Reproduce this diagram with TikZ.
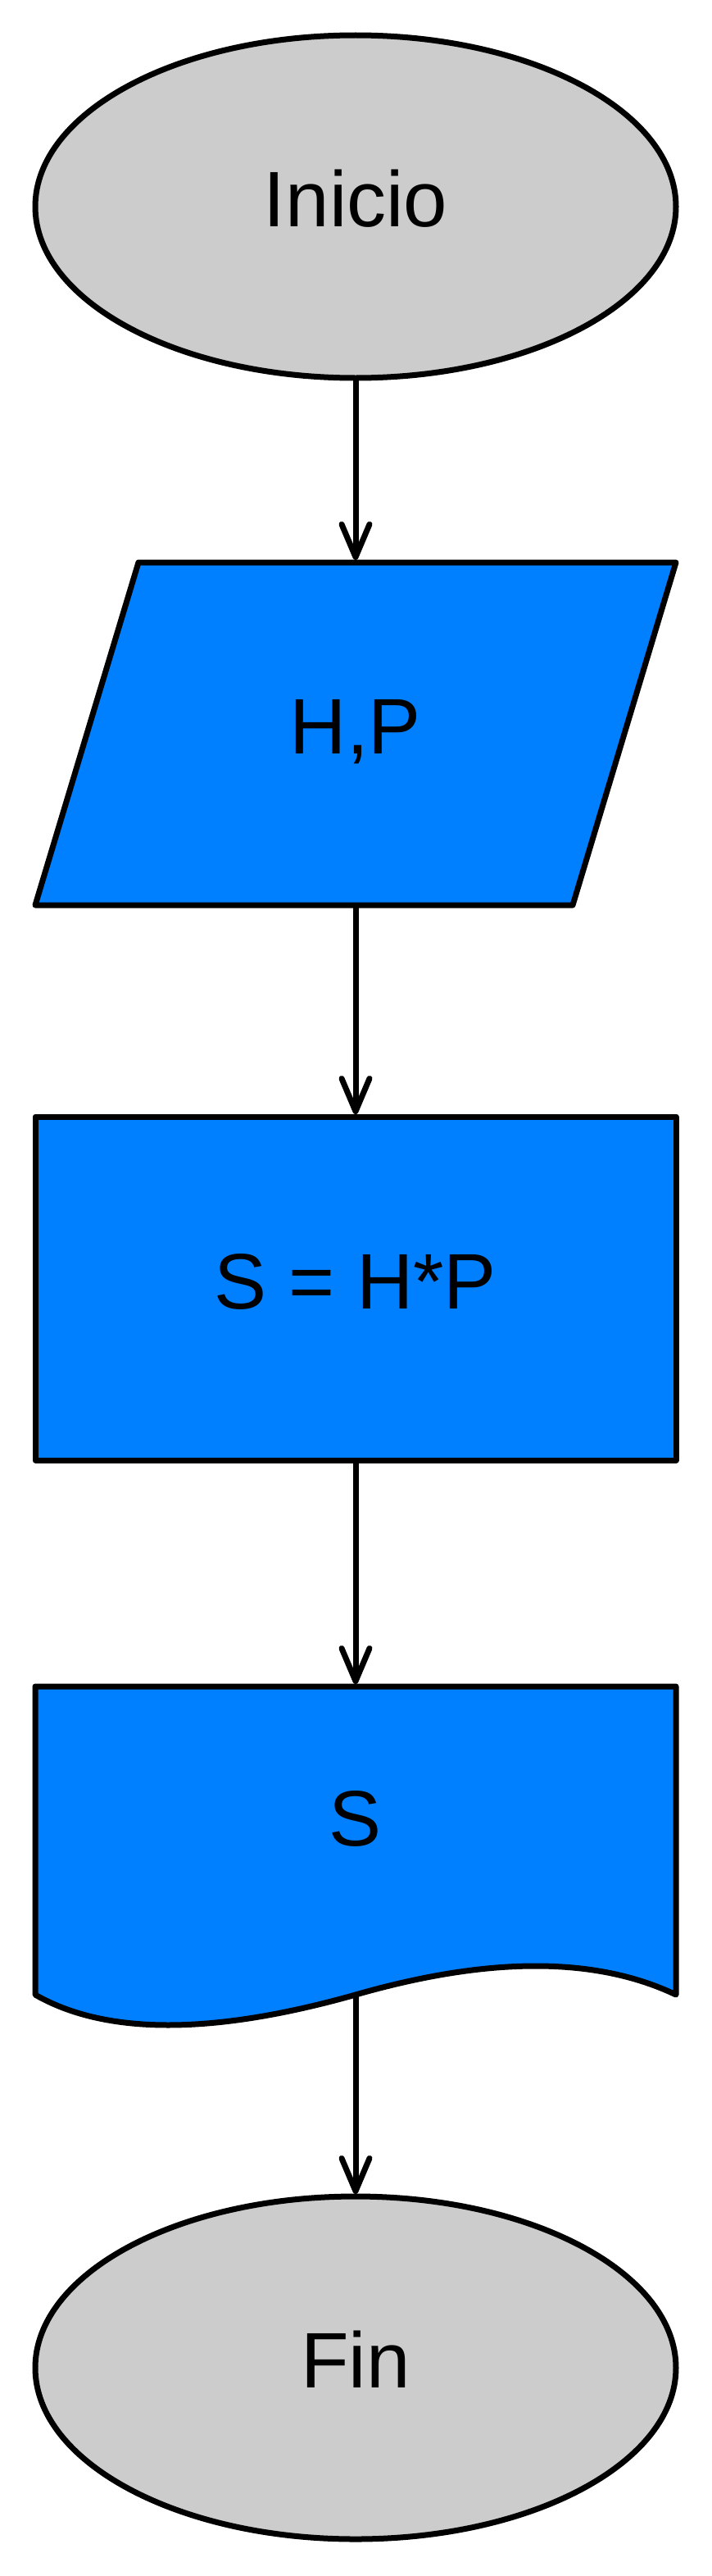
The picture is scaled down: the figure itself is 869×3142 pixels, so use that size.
\documentclass[tikz,border=0pt]{standalone}
\usepackage{fontspec}
\setmainfont{Liberation Sans}
\usetikzlibrary{shapes.geometric,arrows.meta}
\definecolor{blueF}{RGB}{0,127,255}
\definecolor{grayF}{RGB}{204,204,204}
\begin{document}
\begin{tikzpicture}[x=1pt,y=-1pt,
  every node/.style={font=\fontsize{96pt}{110pt}\selectfont, text height=69pt, text depth=20pt, inner sep=0pt, outer sep=0pt},
  outline/.style={draw=black, line width=7pt, line join=round},
  term/.style={outline, ellipse, fill=grayF, minimum width=782pt, minimum height=418pt},
  procbox/.style={outline, rectangle, fill=blueF, minimum width=782pt, minimum height=419pt},
  flow/.style={draw=black, line width=7pt, shorten >=3pt, -{Straight Barb[length=40pt,width=34pt,round]}}
]
\fill[white] (0,0) rectangle (869,3142);
\useasboundingbox (0,0) rectangle (869,3142);

% Start
\node[term] (inicio) at (434,252) {Inicio};

% Input (parallelogram)
\path[outline, fill=blueF] (169,686) -- (825,686) -- (699,1104) -- (43,1104) -- cycle;
\node[minimum height=418pt] (io) at (434,895) {H,P};

% Process
\node[procbox] (calc) at (434,1571.5) {S = H*P};

% Output (document)
\path[outline, fill=blueF] (43,2057) -- (825,2057) -- (825,2433)
  .. controls (727,2386.3) and (596.7,2386.3) .. (434,2433)
  .. controls (259.3,2482.3) and (129,2482.3) .. (43,2433) -- cycle;
\node[minimum height=376pt, text depth=57pt] (out) at (434,2245) {S};

% End
\node[term] (fin) at (434,2888) {Fin};

% Connectors
\draw[flow] (inicio.south) -- (io.north);
\draw[flow] (io.south) -- (calc.north);
\draw[flow] (calc.south) -- (out.north);
\draw[flow] (out.south) -- (fin.north);
\end{tikzpicture}
\end{document}
